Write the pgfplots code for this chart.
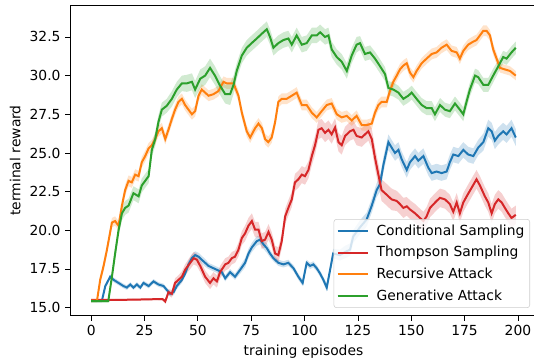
\documentclass[border=0pt]{standalone}
\usepackage{fontspec}
\setmainfont{DejaVu Sans}
\usepackage{pgfplots}
\pgfplotsset{compat=1.18}
\usepgfplotslibrary{fillbetween}
\usepackage{pgfplotstable}
\definecolor{tabblue}{HTML}{1F77B4}
\definecolor{tabred}{HTML}{D62728}
\definecolor{taborange}{HTML}{FF7F0E}
\definecolor{tabgreen}{HTML}{2CA02C}

\pgfplotstableread{
x y e
0 15.45 0.1
5 15.45 0.1
6.6 16.4 0.15
8.9 17.0 0.15
10.5 16.8 0.15
12.8 16.6 0.15
15.1 16.4 0.15
16.7 16.3 0.15
18.3 16.5 0.15
19.8 16.3 0.15
21.4 16.5 0.15
23 16.3 0.15
24.5 16.6 0.15
26.9 16.4 0.15
29.2 16.7 0.15
31.5 16.5 0.15
33.9 16.4 0.15
35.4 16.15 0.15
37 15.9 0.15
38.6 16.0 0.2
40.1 16.4 0.2
42.5 16.8 0.2
44 17.2 0.2
45.6 17.8 0.25
47.2 18.2 0.25
48.7 18.4 0.25
50.3 18.3 0.25
51.8 18.1 0.25
53.4 17.9 0.25
55 17.7 0.2
56.5 17.6 0.2
58.9 17.45 0.2
61.2 17.3 0.2
62.8 16.9 0.2
65.1 17.3 0.2
67.4 17.0 0.2
69.8 17.45 0.25
72.1 17.9 0.3
73.7 18.5 0.3
75.3 18.9 0.3
77.6 19.3 0.3
79.2 19.4 0.3
80.7 19.1 0.3
82.3 18.85 0.3
83.8 18.5 0.25
85.4 18.2 0.2
87.7 17.9 0.2
90.1 17.8 0.2
92.4 17.9 0.2
94.8 17.55 0.2
97.1 17.0 0.2
99.1 16.6 0.2
101 17.9 0.2
102.6 17.7 0.2
104.1 17.8 0.2
105.7 17.55 0.2
107.3 17.2 0.2
108.8 16.8 0.2
110.4 16.3 0.25
113.4 18.5 0.3
116.6 18.4 0.35
119 18.6 0.4
121.3 18.75 0.4
122.8 19.6 0.4
126 20.2 0.45
129.1 20.7 0.45
131.5 21.6 0.45
133.8 22.6 0.45
135.4 23.0 0.5
136.9 24.2 0.5
139.3 25.7 0.5
140.8 25.35 0.5
142.4 25.0 0.5
144 25.2 0.5
145.5 24.6 0.5
147.9 23.9 0.5
149.4 24.4 0.5
151.8 24.8 0.5
153.3 24.5 0.5
155.7 24.8 0.5
158 24.05 0.5
159.6 23.7 0.5
161.9 23.8 0.5
164.2 23.7 0.5
166.6 23.8 0.5
168.1 24.4 0.5
169.7 24.9 0.5
172.1 24.8 0.5
174.4 25.2 0.5
176.7 24.9 0.5
179.1 24.8 0.5
181.4 25.35 0.5
183.8 25.7 0.55
186.1 26.6 0.55
187.7 26.4 0.55
189.2 25.8 0.55
190.8 26.1 0.55
193.1 26.4 0.55
194.7 26.2 0.55
197 26.6 0.55
199 26.0 0.55
}\tabB

\pgfplotstableread{
x y e
0 15.5 0.06
10 15.5 0.06
20 15.52 0.06
30 15.55 0.06
33.5 15.55 0.08
34.7 15.4 0.15
36.2 16.0 0.2
37.8 15.9 0.25
39.3 16.6 0.3
40.9 16.8 0.3
42.5 17.0 0.35
44 17.45 0.35
46.4 17.9 0.4
48 18.2 0.4
49.5 18.1 0.4
51.1 17.7 0.4
53.4 17.0 0.4
55.7 16.6 0.4
57.3 16.9 0.4
58.9 16.7 0.4
60.4 17.3 0.4
62.8 17.8 0.4
64.3 17.9 0.4
65.9 18.2 0.4
67.4 18.3 0.4
69 18.75 0.45
70.6 19.5 0.45
72.1 19.8 0.5
73.7 20.3 0.5
75.3 20.6 0.5
76.8 20.05 0.5
78.4 20.05 0.5
79.9 19.3 0.5
81.5 19.4 0.5
83.1 19.9 0.5
84.6 19.4 0.5
86.2 18.5 0.5
87.7 18.4 0.5
89.3 19.3 0.5
90.9 20.9 0.5
92.4 21.45 0.5
94 22.0 0.5
95.5 23.1 0.55
97.1 23.3 0.55
98.7 23.6 0.55
100.2 23.5 0.55
101.8 23.9 0.55
103.4 24.8 0.6
104.9 25.5 0.6
106.5 26.5 0.6
108 26.6 0.6
109.6 26.3 0.6
111.2 26.5 0.6
112.7 26.2 0.6
114.3 26.65 0.6
115.9 25.7 0.6
117.4 25.5 0.6
119 26.1 0.6
121.3 26.4 0.6
122.9 26.5 0.6
124.4 26.1 0.6
126.8 26.0 0.6
128.3 26.2 0.6
129.9 26.4 0.6
131.5 25.9 0.65
133 24.7 0.7
134.6 23.6 0.7
136.1 22.6 0.7
138.5 22.3 0.7
140.8 22.0 0.7
143.2 21.9 0.65
144.7 21.7 0.65
146.3 21.45 0.65
147.9 21.55 0.6
149.4 21.35 0.6
151.8 21.1 0.6
154.1 20.8 0.6
155.7 20.6 0.6
157.2 20.9 0.6
158.8 21.45 0.6
161.9 21.9 0.6
163.5 22.1 0.6
165.8 22.0 0.6
168.1 21.7 0.6
169.7 21.2 0.6
171.3 21.8 0.6
172.8 21.1 0.6
174.4 21.8 0.6
176 22.2 0.6
178.3 22.75 0.6
180.6 23.3 0.6
182.2 22.9 0.6
184.5 22.2 0.6
186.1 21.8 0.6
187.7 21.1 0.6
189.2 21.7 0.6
190.8 22.0 0.6
192.4 21.8 0.6
193.9 21.45 0.6
195.5 21.1 0.6
197 20.8 0.6
199 21.0 0.6
}\tabR

\pgfplotstableread{
x y e
0 15.45 0.1
2.7 15.45 0.1
4.2 16.8 0.25
5.8 17.7 0.3
7.3 18.7 0.3
9.7 20.5 0.3
11.2 20.6 0.3
12.8 20.3 0.3
14.4 21.6 0.35
15.9 22.6 0.35
17.5 23.2 0.35
19 23.1 0.35
20.6 23.6 0.35
22.2 23.5 0.35
23.7 24.4 0.35
25.3 24.8 0.35
26.9 25.3 0.35
28.4 25.5 0.35
30 25.9 0.35
31.5 26.4 0.35
33.1 26.6 0.35
34.7 25.9 0.35
36.2 26.5 0.35
37.8 27.2 0.35
39.3 27.8 0.35
40.9 28.3 0.35
42.5 28.5 0.35
44 28.1 0.35
45.6 27.8 0.35
47.2 27.5 0.35
48.7 27.7 0.35
50.3 28.7 0.35
51.8 29.1 0.35
53.4 28.9 0.35
55 28.7 0.35
57.3 28.8 0.35
59.6 29.0 0.35
62 29.6 0.35
63.5 29.5 0.35
66.7 29.5 0.35
69 28.7 0.35
70.6 27.6 0.35
72.9 26.4 0.35
74.5 26.0 0.35
76.8 26.6 0.35
78.4 26.9 0.35
80 26.6 0.35
81.5 25.9 0.35
83 25.7 0.35
84.6 26.0 0.35
86.2 27.0 0.35
87.7 28.3 0.35
89.3 28.5 0.35
91.6 28.5 0.35
94 28.7 0.35
96.3 28.9 0.35
98.7 28.1 0.35
101 28.1 0.35
103.4 27.6 0.35
105.7 27.3 0.35
108 27.7 0.35
110.4 28.1 0.35
112.7 28.2 0.35
115.1 27.5 0.35
117.4 27.3 0.35
119.8 27.4 0.35
122.1 27.1 0.35
124.4 27.4 0.35
126.8 26.8 0.35
129.1 26.8 0.35
131.5 26.9 0.35
133 27.6 0.35
134.6 28.1 0.35
136.1 28.3 0.35
138.5 28.3 0.35
140 29.0 0.35
141.6 29.6 0.35
143.2 30.0 0.35
144.7 30.4 0.35
146.3 30.65 0.35
147.9 30.8 0.35
149.4 30.2 0.35
151 29.9 0.35
152.5 30.3 0.35
154.9 30.8 0.35
157.2 31.1 0.35
159.6 31.4 0.35
161.9 31.5 0.35
164.2 31.8 0.35
166.6 32.0 0.35
168.9 31.6 0.35
171.3 31.5 0.35
172.8 31.1 0.35
174.4 31.6 0.35
176.7 32.0 0.35
179.1 32.2 0.35
180.6 32.3 0.35
182.2 32.6 0.35
183.8 32.9 0.35
185.3 32.9 0.35
186.9 32.6 0.35
188.4 31.7 0.35
190 31.1 0.35
191.6 30.5 0.3
193.9 30.4 0.3
196.3 30.3 0.3
199 30.0 0.3
}\tabO

\pgfplotstableread{
x y e
0 15.43 0.1
8 15.43 0.1
9.7 17.0 0.3
11.2 18.5 0.4
12.8 20.0 0.4
14.4 21.1 0.45
15.9 21.45 0.45
17.5 21.6 0.45
19.8 22.4 0.45
22.2 22.2 0.45
23.7 22.9 0.45
25.3 23.2 0.45
26.9 23.5 0.45
28.4 25.2 0.45
30 25.9 0.45
31.5 27.0 0.45
33.1 27.8 0.45
35.4 28.05 0.45
37.8 28.5 0.5
40.1 29.1 0.5
42.5 29.5 0.5
44.8 29.5 0.55
47.2 29.6 0.55
48.7 29.1 0.55
51.1 29.8 0.6
53.4 30.0 0.6
55.7 30.5 0.6
58 30.0 0.6
60.4 29.35 0.6
62.8 28.8 0.6
65.1 28.8 0.7
66.7 29.4 0.6
68.2 30.3 0.5
70.6 31.3 0.5
72.9 31.8 0.5
75.2 32.1 0.5
77.6 32.4 0.5
79.9 32.7 0.5
82.3 33.0 0.5
83.8 32.5 0.5
85.4 31.8 0.5
87.7 32.1 0.5
90.1 32.3 0.5
92.4 32.4 0.5
94 32.0 0.5
96.3 32.6 0.5
98.7 32.0 0.5
101 32.1 0.5
103.4 32.6 0.5
105.7 32.6 0.5
107.3 32.8 0.5
109.6 32.5 0.5
111.2 32.6 0.5
112.7 31.7 0.5
115.1 31.2 0.5
117.4 30.9 0.5
119.8 30.3 0.5
122.1 31.3 0.5
124.4 32.0 0.5
126 32.1 0.45
128.3 31.4 0.45
130.7 31.5 0.45
133 31.1 0.45
135.4 30.6 0.45
137.7 30.1 0.45
139.3 29.2 0.45
141.6 29.1 0.45
144 28.9 0.45
146.3 28.5 0.45
148.6 28.7 0.45
150.2 28.9 0.45
152.5 28.5 0.45
154.9 28.1 0.45
157.2 27.9 0.45
159.6 27.9 0.45
161.1 27.5 0.45
163.5 28.1 0.45
165.8 27.8 0.45
168.1 27.7 0.45
170.5 28.2 0.45
172.8 27.8 0.45
174.4 27.5 0.45
175.9 28.3 0.45
177.5 29.1 0.45
179.9 30.0 0.45
181.4 29.9 0.45
183.8 29.4 0.45
186.1 29.4 0.45
188.4 30.0 0.45
190.8 30.6 0.4
193.1 31.2 0.4
194.7 31.1 0.4
197 31.5 0.4
199 31.8 0.4
}\tabG

\begin{document}
\begin{tikzpicture}
\begin{axis}[
  at={(0,0)}, anchor=south west,
  scale only axis, width=350.25pt, height=233pt,
  xmin=-9.95, xmax=208.95, ymin=14.48, ymax=34.56,
  xtick={0,25,...,200},
  ytick={15,17.5,20,22.5,25,27.5,30,32.5},
  yticklabel style={/pgf/number format/.cd, fixed, fixed zerofill, precision=1},
  /pgf/number format/assume math mode=true,
  tick align=outside, tick pos=left,
  major tick length=3.6pt,
  tick style={black, line width=0.6pt},
  axis line style={black, line width=0.6pt},
  ticklabel style={font=\fontsize{10.4}{12}\selectfont},
  label style={font=\fontsize{10.4}{12}\selectfont},
  xlabel={training episodes},
  ylabel={terminal reward},
  legend cell align=left,
  legend style={at={(0.985,0.025)}, anchor=south east,
    draw=black!20, rounded corners=2pt, fill=white, fill opacity=0.8, text opacity=1,
    font=\fontsize{10.4}{12}\selectfont, inner sep=2pt,
    row sep=2.9pt,
    /tikz/every odd column/.append style={column sep=4pt}},
  legend image code/.code={\draw[#1, line width=1.5pt] (-2pt,0pt) -- (20.5pt,0pt);},
]
% blue
\addplot[draw=none, forget plot, name path=bU] table[x=x, y expr=\thisrow{y}+\thisrow{e}] {\tabB};
\addplot[draw=none, forget plot, name path=bL] table[x=x, y expr=\thisrow{y}-\thisrow{e}] {\tabB};
\addplot[tabblue, fill opacity=0.22, forget plot] fill between[of=bU and bL];
\addplot[tabblue, line width=1.5pt] table[x=x, y=y] {\tabB};
% red
\addplot[draw=none, forget plot, name path=rU] table[x=x, y expr=\thisrow{y}+\thisrow{e}] {\tabR};
\addplot[draw=none, forget plot, name path=rL] table[x=x, y expr=\thisrow{y}-\thisrow{e}] {\tabR};
\addplot[tabred, fill opacity=0.22, forget plot] fill between[of=rU and rL];
\addplot[tabred, line width=1.5pt] table[x=x, y=y] {\tabR};
% orange
\addplot[draw=none, forget plot, name path=oU] table[x=x, y expr=\thisrow{y}+\thisrow{e}] {\tabO};
\addplot[draw=none, forget plot, name path=oL] table[x=x, y expr=\thisrow{y}-\thisrow{e}] {\tabO};
\addplot[taborange, fill opacity=0.22, forget plot] fill between[of=oU and oL];
\addplot[taborange, line width=1.5pt] table[x=x, y=y] {\tabO};
% green
\addplot[draw=none, forget plot, name path=gU] table[x=x, y expr=\thisrow{y}+\thisrow{e}] {\tabG};
\addplot[draw=none, forget plot, name path=gL] table[x=x, y expr=\thisrow{y}-\thisrow{e}] {\tabG};
\addplot[tabgreen, fill opacity=0.22, forget plot] fill between[of=gU and gL];
\addplot[tabgreen, line width=1.5pt] table[x=x, y=y] {\tabG};
\legend{Conditional Sampling, Thompson Sampling, Recursive Attack, Generative Attack}
\end{axis}
\pgfresetboundingbox
\useasboundingbox (-52.5pt,-34.7pt) rectangle (348pt,236.8pt);
\end{tikzpicture}
\end{document}
